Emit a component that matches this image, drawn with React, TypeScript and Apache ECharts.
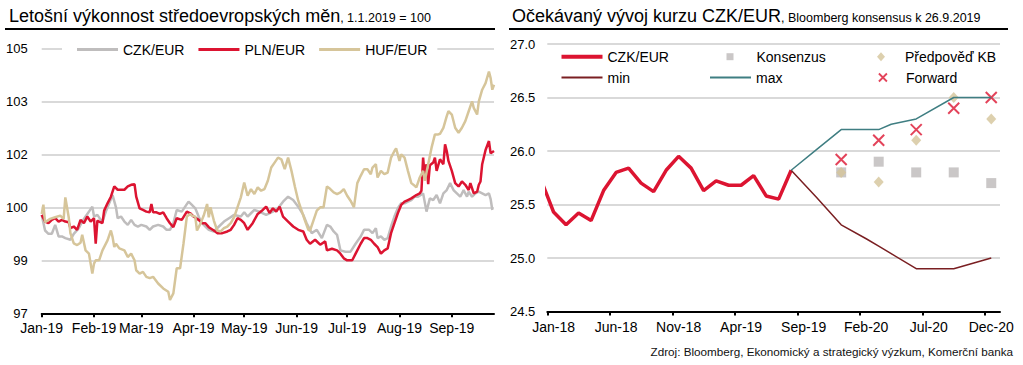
import React, { useEffect, useRef } from 'react';
import * as echarts from 'echarts';

const FONT = "'Liberation Sans', Arial, Helvetica, sans-serif";

// ---------- Left chart: daily index (days since 1.1.2019), 1.1.2019 = 100 ----------
const leftTickDays = [0, 31, 59, 90, 120, 151, 181, 212, 243];
const leftTickLabels = ['Jan-19', 'Feb-19', 'Mar-19', 'Apr-19', 'May-19', 'Jun-19', 'Jul-19', 'Aug-19', 'Sep-19'];

const czkIndex: [number, number][] = [
  [0, 99.97], [2, 99.5], [4, 99.4], [6, 99.4], [8, 99.67], [10, 99.32], [12, 99.32], [14, 99.27], [17, 99.22],
  [19, 99.4], [22, 99.57], [24, 99.77], [26, 99.92], [28, 100.07], [30, 100.22], [31, 99.92], [33, 99.97],
  [35, 99.82], [36, 99.77], [38, 100.07], [40, 100.32], [42, 100.57], [44, 100.2], [45, 99.87], [47, 99.92],
  [49, 99.77], [51, 99.67], [53, 99.82], [55, 99.67], [57, 99.62], [59, 99.67], [62, 99.62], [64, 99.52],
  [66, 99.62], [69, 99.67], [72, 99.62], [74, 99.52], [76, 99.52], [78, 99.72], [80, 100.12], [83, 100.07],
  [85, 100.22], [87, 100.37], [89, 100.27], [91, 100.17], [93, 99.92], [95, 99.72], [97, 99.62], [99, 99.52],
  [102, 99.47], [105, 99.62], [108, 99.77], [111, 99.87], [114, 99.97], [118, 99.92], [120, 100.05], [122, 99.92],
  [124, 100.02], [126, 100.12], [129, 100.07], [133, 99.97], [137, 100.07], [140, 100.17], [143, 100.37],
  [146, 100.52], [149, 100.42], [152, 100.22], [155, 99.97], [157, 99.72], [160, 99.42], [163, 99.52],
  [166, 99.27], [169, 99.67], [171, 99.62], [173, 99.47], [175, 99.37], [177, 98.9], [180, 98.86], [183, 98.86],
  [186, 99.1], [189, 99.32], [191, 99.52], [194, 99.52], [196, 99.42], [198, 99.57], [199, 99.27], [201, 99.32],
  [203, 99.22], [205, 99.27], [207, 99.62], [209, 99.92], [211, 100.17], [213, 100.32], [215, 100.32],
  [217, 100.37], [219, 100.42], [221, 100.52], [223, 100.52], [226, 100.62], [228, 100.07], [230, 100.47],
  [232, 100.42], [234, 100.57], [236, 100.32], [238, 100.62], [240, 100.72], [242, 100.93], [244, 100.72],
  [246, 100.62], [248, 100.52], [250, 100.72], [252, 100.52], [253, 100.67], [255, 100.52], [257, 100.62],
  [259, 100.67], [261, 100.62], [263, 100.57], [265, 100.62], [266, 100.45], [267, 100.12],
];

const plnIndex: [number, number][] = [
  [0, 99.97], [2, 99.77], [4, 99.72], [6, 99.82], [8, 99.87], [10, 99.77], [12, 99.82], [14, 99.77], [16, 99.75],
  [17, 99.57], [19, 99.62], [21, 99.52], [23, 99.82], [25, 99.72], [27, 99.92], [29, 99.77], [31, 99.87],
  [32, 99.1], [33, 99.8], [34, 99.77], [36, 99.72], [37, 100.1], [39, 100.32], [41, 100.52], [43, 100.83],
  [45, 100.73], [47, 100.73], [49, 100.73], [51, 100.83], [53, 100.88], [55, 100.9], [56, 100.52], [58, 100.17],
  [60, 100.12], [62, 100.07], [64, 100.05], [65, 100.3], [66, 100.05], [68, 100.05], [70, 100.0], [72, 100.05],
  [74, 99.87], [76, 99.72], [78, 99.6], [80, 99.87], [83, 99.82], [86, 100.07], [88, 100.02], [90, 99.92],
  [93, 99.82], [95, 99.72], [97, 99.72], [99, 99.6], [102, 99.5], [104, 99.42], [107, 99.42], [110, 99.47],
  [112, 99.52], [114, 99.67], [116, 99.87], [118, 99.82], [120, 99.72], [122, 99.52], [125, 99.72], [128, 100.0],
  [131, 100.12], [133, 100.22], [135, 100.03], [137, 100.17], [139, 100.07], [141, 100.22], [143, 99.92],
  [146, 99.77], [149, 99.62], [152, 99.52], [155, 99.47], [157, 99.22], [159, 99.1], [162, 99.22], [165, 99.07],
  [168, 99.17], [169, 98.9], [172, 98.95], [175, 98.9], [177, 98.8], [179, 98.66], [181, 98.6], [184, 98.6],
  [186, 98.8], [189, 99.1], [191, 99.27], [193, 99.27], [195, 99.22], [197, 99.1], [199, 99.0], [201, 98.8],
  [203, 98.9], [205, 98.96], [207, 99.42], [209, 99.72], [211, 100.02], [213, 100.27], [215, 100.37],
  [217, 100.42], [219, 100.47], [222, 100.57], [224, 100.62], [225, 100.7], [226, 101.7], [227, 101.1],
  [228, 101.5], [229, 100.9], [230, 101.47], [232, 101.55], [233, 101.7], [234, 101.3], [236, 101.65],
  [238, 101.5], [239, 102.1], [240, 101.9], [241, 101.6], [243, 101.3], [245, 100.93], [247, 100.83],
  [249, 100.98], [251, 100.88], [253, 100.72], [254, 100.93], [256, 100.62], [258, 100.67], [259, 100.88],
  [260, 100.98], [261, 101.5], [263, 101.93], [265, 102.2], [266, 101.83], [268, 101.9],
];

const hufIndex: [number, number][] = [
  [0, 100.0], [1, 100.28], [2, 99.75], [5, 99.85], [8, 99.9], [11, 99.95], [13, 99.85], [14, 100.5], [16, 99.9],
  [17, 99.42], [19, 99.11], [21, 99.06], [23, 99.13], [24, 99.37], [26, 98.9], [28, 98.8], [30, 98.2], [31, 98.5],
  [32, 98.6], [34, 98.6], [36, 98.9], [39, 99.2], [41, 99.5], [42, 99.3], [43, 99.0], [44, 99.1], [46, 98.96],
  [49, 98.9], [51, 98.7], [53, 98.8], [55, 98.6], [56, 98.3], [58, 98.2], [60, 98.25], [62, 98.1], [64, 98.06],
  [66, 98.1], [69, 97.9], [72, 97.75], [75, 97.65], [76, 97.4], [78, 97.6], [80, 98.36], [82, 98.36], [84, 99.1],
  [86, 99.92], [88, 100.0], [89, 99.95], [91, 99.92], [92, 99.5], [94, 99.7], [96, 99.95], [98, 100.3], [99, 99.9],
  [100, 100.2], [102, 99.8], [104, 99.5], [106, 99.47], [108, 99.57], [110, 99.62], [112, 99.72], [114, 99.9],
  [116, 100.2], [118, 100.5], [120, 100.95], [122, 100.55], [124, 100.75], [126, 100.6], [128, 100.8],
  [130, 100.7], [132, 100.75], [134, 101.0], [136, 101.4], [138, 101.55], [140, 101.7], [142, 101.65],
  [144, 101.35], [146, 101.7], [148, 101.3], [150, 100.83], [152, 100.4], [154, 100.1], [156, 99.8],
  [158, 99.52], [159, 99.5], [161, 99.8], [163, 100.1], [165, 100.2], [167, 100.2], [169, 100.83], [171, 100.75],
  [173, 100.65], [175, 100.6], [177, 100.65], [179, 100.75], [181, 100.55], [183, 100.4], [185, 100.2],
  [187, 100.93], [189, 101.15], [191, 101.35], [193, 101.35], [195, 101.2], [196, 101.4], [198, 101.5],
  [199, 101.1], [201, 101.3], [203, 101.2], [205, 101.25], [207, 101.7], [209, 101.9], [210, 101.98],
  [212, 101.6], [213, 101.8], [215, 101.7], [217, 101.3], [219, 100.93], [221, 100.85], [222, 100.8],
  [224, 101.1], [226, 101.3], [227, 101.0], [229, 101.5], [231, 102.0], [233, 102.4], [235, 102.4],
  [236, 102.42], [238, 102.6], [240, 102.95], [241, 103.1], [243, 103.0], [245, 102.6], [247, 102.45],
  [249, 102.6], [251, 102.8], [253, 103.1], [255, 103.4], [256, 103.2], [258, 103.0], [259, 103.4],
  [261, 103.75], [263, 103.95], [265, 104.3], [266, 104.1], [267, 103.75], [268, 103.9],
];

// ---------- Right chart: monthly CZK/EUR and forecasts ----------
const rightTickMonths = ['Jan-18', 'Jun-18', 'Nov-18', 'Apr-19', 'Sep-19', 'Feb-20', 'Jul-20', 'Dec-20'];

const czkMonths = ['Dec-17', 'Jan-18', 'Feb-18', 'Mar-18', 'Apr-18', 'May-18', 'Jun-18', 'Jul-18', 'Aug-18',
  'Sep-18', 'Oct-18', 'Nov-18', 'Dec-18', 'Jan-19', 'Feb-19', 'Mar-19', 'Apr-19', 'May-19', 'Jun-19', 'Jul-19', 'Aug-19'];
const czkValues = [25.73, 25.43, 25.31, 25.42, 25.35, 25.63, 25.80, 25.84, 25.70, 25.62, 25.82, 25.95, 25.84,
  25.63, 25.72, 25.68, 25.68, 25.77, 25.58, 25.55, 25.82];

const rangeMonths = ['Aug-19', 'Oct-19', 'Dec-19', 'Feb-20', 'Mar-20', 'Apr-20', 'Jun-20', 'Sep-20', 'Dec-20'];
const minValues = [25.82, 25.57, 25.31, 25.18, 25.11, 25.04, 24.90, 24.90, 25.0];
const maxValues = [25.82, 26.01, 26.2, 26.2, 26.2, 26.25, 26.3, 26.5, 26.5];

const quarterMonths = ['Dec-19', 'Mar-20', 'Jun-20', 'Sep-20', 'Dec-20'];
const consensusValues = [25.8, 25.9, 25.8, 25.8, 25.7];
const kbValues = [25.8, 25.71, 26.1, 26.5, 26.3];
const forwardValues = [25.92, 26.1, 26.2, 26.4, 26.5];

const MON = ['Jan', 'Feb', 'Mar', 'Apr', 'May', 'Jun', 'Jul', 'Aug', 'Sep', 'Oct', 'Nov', 'Dec'];
// centre of the month on a month-count axis starting 1.1.2018
const monthPos = (label: string) => {
  const [m, y] = label.split('-');
  return (Number(y) - 18) * 12 + MON.indexOf(m) + 0.5;
};

const RED = '#DC1431';
const XPATH = 'path://M0,0L10,10M10,0L0,10';

export default function App() {
  const ref = useRef<HTMLDivElement>(null);
  useEffect(() => {
    if (!ref.current) return;
    const chart = echarts.init(ref.current, null, { renderer: 'svg' });
    const axisText = { color: '#000', fontFamily: FONT };
    const legendText = { color: '#000', fontFamily: FONT, fontSize: 14 };
    const titleRich = {
      a: { fontSize: 18, fontFamily: FONT, fontWeight: 'normal', color: '#000', verticalAlign: 'bottom', lineHeight: 20 },
      b: { fontSize: 12.5, fontFamily: FONT, fontWeight: 'normal', color: '#000', verticalAlign: 'bottom', lineHeight: 20, padding: [0, 0, 1, 0] },
    };

    const option: any = {
      animation: false,
      textStyle: { fontFamily: FONT },
      title: [
        {
          left: 9, top: 5, padding: 0,
          text: '{a|Letošní výkonnost středoevropských měn}{b|, 1.1.2019 = 100}',
          textStyle: { fontWeight: 'normal', rich: titleRich },
        },
        {
          left: 512, top: 5, padding: 0,
          text: '{a|Očekávaný vývoj kurzu CZK/EUR}{b|, Bloomberg konsensus k 26.9.2019}',
          textStyle: { fontWeight: 'normal', rich: titleRich },
        },
      ],
      graphic: [
        { type: 'line', shape: { x1: 5, y1: 29, x2: 495, y2: 29 }, style: { stroke: '#000', lineWidth: 2 } },
        { type: 'line', shape: { x1: 509, y1: 29, x2: 1008, y2: 29 }, style: { stroke: '#000', lineWidth: 2 } },
        {
          type: 'text', x: 1013, y: 351.5,
          style: {
            text: 'Zdroj: Bloomberg, Ekonomický a strategický výzkum, Komerční banka',
            fontSize: 11.7, fontFamily: FONT, fill: '#111',
            align: 'right', verticalAlign: 'middle', textAlign: 'right', textVerticalAlign: 'middle',
          },
        },
      ],
      legend: [
        {
          data: ['CZK/EUR', 'PLN/EUR', 'HUF/EUR'],
          left: 62, top: 39.5, padding: [3, 10, 3, 15], backgroundColor: '#fff',
          itemGap: 14, itemWidth: 41, itemHeight: 3, icon: 'rect', selectedMode: false,
          itemStyle: { borderWidth: 0 }, textStyle: legendText,
        },
        {
          data: ['CZK/EUR kurz'], formatter: () => 'CZK/EUR',
          left: 561.5, top: 49.7, padding: 0, itemWidth: 41, itemHeight: 4, icon: 'rect', selectedMode: false,
          itemStyle: { borderWidth: 0 }, textStyle: legendText,
        },
        {
          data: ['Konsenzus'], left: 726.5, top: 49.7, padding: 0, itemWidth: 7, itemHeight: 7, icon: 'rect',
          selectedMode: false, itemStyle: { borderWidth: 0 }, textStyle: { ...legendText, padding: [0, 0, 0, 18] },
        },
        {
          data: ['Předpověď KB'], left: 877, top: 49.7, padding: 0, itemWidth: 8, itemHeight: 9, icon: 'diamond',
          selectedMode: false, itemStyle: { borderWidth: 0 }, textStyle: { ...legendText, padding: [0, 0, 0, 15] },
        },
        {
          data: ['min'], left: 561.5, top: 70.5, padding: 0, itemWidth: 41, itemHeight: 2, icon: 'rect',
          selectedMode: false, itemStyle: { borderWidth: 0 }, textStyle: legendText,
        },
        {
          data: ['max'], left: 710, top: 70.5, padding: 0, itemWidth: 41, itemHeight: 2, icon: 'rect',
          selectedMode: false, itemStyle: { borderWidth: 0 }, textStyle: legendText,
        },
        {
          data: [{ name: 'Forward', icon: XPATH, itemStyle: { color: 'rgba(0,0,0,0)', borderColor: RED, borderWidth: 1.8 } }],
          left: 878, top: 70.5, padding: 0, itemWidth: 8, itemHeight: 8,
          selectedMode: false, textStyle: { ...legendText, padding: [0, 0, 0, 14] },
        },
      ],
      grid: [
        { left: 41.7, top: 48.3, width: 452.3, height: 265 },
        { left: 547.3, top: 44, width: 452.7, height: 267.5 },
      ],
      xAxis: [
        {
          gridIndex: 0, type: 'value', min: 0, max: 268,
          axisLine: { show: true, lineStyle: { color: '#000', width: 2 } },
          axisTick: { show: true, customValues: leftTickDays, length: 4, lineStyle: { color: '#000', width: 2 } },
          axisLabel: {
            ...axisText, fontSize: 14, margin: 8, customValues: leftTickDays,
            formatter: (v: number) => leftTickLabels[leftTickDays.indexOf(Math.round(v))] ?? '',
          },
          splitLine: { show: false },
        },
        {
          gridIndex: 1, type: 'value', min: 0, max: 36.2,
          axisLine: { show: true, lineStyle: { color: '#000', width: 2 } },
          axisTick: {
            show: true, customValues: rightTickMonths.map((m) => monthPos(m) - 0.5), length: 4,
            lineStyle: { color: '#000', width: 2 },
          },
          axisLabel: {
            ...axisText, fontSize: 14, margin: 8, customValues: rightTickMonths.map(monthPos),
            formatter: (v: number) => rightTickMonths.find((m) => Math.abs(monthPos(m) - v) < 0.01) ?? '',
          },
          splitLine: { show: false },
        },
      ],
      yAxis: [
        {
          gridIndex: 0, type: 'value', min: 97, max: 105, interval: 1.6,
          axisLine: { show: false }, axisTick: { show: false },
          axisLabel: { ...axisText, fontSize: 13, margin: 14, formatter: (v: number) => String(Math.round(v)) },
          splitLine: { show: true, lineStyle: { color: '#D9D9D9', width: 2 } },
        },
        {
          gridIndex: 1, type: 'value', min: 24.5, max: 27, interval: 0.5,
          axisLine: { show: false }, axisTick: { show: false },
          axisLabel: { ...axisText, fontSize: 13, margin: 12, formatter: (v: number) => v.toFixed(1) },
          splitLine: { show: true, lineStyle: { color: '#D9D9D9', width: 2 } },
        },
      ],
      series: [
        {
          name: 'CZK/EUR', type: 'line', xAxisIndex: 0, yAxisIndex: 0, data: czkIndex,
          symbol: 'none', color: '#BFBDBD', lineStyle: { width: 2.5, color: '#BFBDBD' },
        },
        {
          name: 'PLN/EUR', type: 'line', xAxisIndex: 0, yAxisIndex: 0, data: plnIndex,
          symbol: 'none', color: RED, lineStyle: { width: 2.5, color: RED },
        },
        {
          name: 'HUF/EUR', type: 'line', xAxisIndex: 0, yAxisIndex: 0, data: hufIndex,
          symbol: 'none', color: '#D6C59A', lineStyle: { width: 2.5, color: '#D6C59A' },
        },
        {
          name: 'CZK/EUR kurz', type: 'line', xAxisIndex: 1, yAxisIndex: 1,
          data: czkMonths.map((m, i) => [monthPos(m), czkValues[i]]),
          symbol: 'none', color: RED, lineStyle: { width: 3.5, color: RED },
        },
        {
          name: 'min', type: 'line', xAxisIndex: 1, yAxisIndex: 1,
          data: rangeMonths.map((m, i) => [monthPos(m), minValues[i]]),
          symbol: 'none', color: '#7A1F22', lineStyle: { width: 1.5, color: '#7A1F22' },
        },
        {
          name: 'max', type: 'line', xAxisIndex: 1, yAxisIndex: 1,
          data: rangeMonths.map((m, i) => [monthPos(m), maxValues[i]]),
          symbol: 'none', color: '#3F7E82', lineStyle: { width: 1.5, color: '#3F7E82' },
        },
        {
          name: 'Konsenzus', type: 'scatter', xAxisIndex: 1, yAxisIndex: 1,
          data: quarterMonths.map((m, i) => [monthPos(m), consensusValues[i]]),
          symbol: 'rect', symbolSize: 10, color: '#BDB9B9',
        },
        {
          name: 'Předpověď KB', type: 'scatter', xAxisIndex: 1, yAxisIndex: 1,
          data: quarterMonths.map((m, i) => [monthPos(m), kbValues[i]]),
          symbol: 'diamond', symbolSize: [10, 11], color: '#D5C49A',
        },
        {
          name: 'Forward', type: 'scatter', xAxisIndex: 1, yAxisIndex: 1,
          data: quarterMonths.map((m, i) => [monthPos(m), forwardValues[i]]),
          symbol: XPATH, symbolSize: 11, color: RED,
          itemStyle: { color: 'rgba(0,0,0,0)', borderColor: RED, borderWidth: 2 },
        },
      ],
    };
    chart.setOption(option);
    return () => chart.dispose();
  }, []);

  return (
    <div
      ref={ref}
      style={{ position: 'fixed', left: 0, top: 0, width: 1023, height: 365, background: '#fff' }}
    />
  );
}
